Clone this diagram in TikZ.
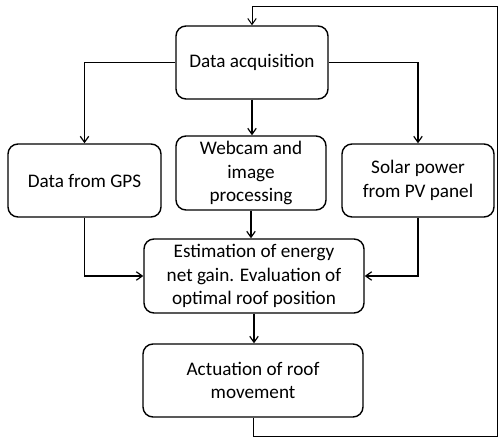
\documentclass[tikz,border=0pt]{standalone}
\usepackage{fontspec}
\setmainfont{Carlito}
\usetikzlibrary{arrows.meta}
\begin{document}
\begin{tikzpicture}[x=1pt,y=-1pt,
  box/.style={draw,line width=1.4pt,rounded corners=10pt,inner sep=0pt,align=center,
    font=\fontsize{19.2}{23.5}\selectfont},
  arr/.style={line width=1.5pt,-{Straight Barb[length=6pt,width=8.5pt,line width=1.2pt]}},
  fb/.style={line width=0.9pt,-{Straight Barb[length=6pt,width=8.5pt,line width=1pt]}}]
\useasboundingbox (0,0) rectangle (499,437);
\node[box,minimum width=152pt,minimum height=73pt] (da) at (252,62.5) {Data acquisition};
\node[box,minimum width=153pt,minimum height=73pt] (gps) at (84.5,180.5) {Data from GPS};
\node[box,minimum width=150pt,minimum height=74pt] (web) at (251,173) {\raisebox{0pt}[0pt][0pt]{}Webcam and\\image\\processing};
\node[box,minimum width=152pt,minimum height=73pt] (sol) at (418,180.5) {Solar power\\from PV panel};
\node[box,minimum width=220pt,minimum height=74pt] (est) at (254,276) {Estimation of energy\\net gain. Evaluation of\\optimal roof position};
\node[box,minimum width=220pt,minimum height=73pt] (act) at (253,380.5) {Actuation of roof\\movement};
\coordinate (fb2) at (497,436);
\coordinate (fb3) at (497,6);
\draw[arr] (da.west) -| (gps.north);
\draw[arr] (da.east) -| (sol.north);
\draw[arr] (da.south) -- (da.south |- web.north);
\draw[arr] (gps.south) |- (est.west);
\draw[arr] (sol.south) |- (est.east);
\draw[arr] (web.south) -- (web.south |- est.north);
\draw[arr] (est.south) -- (est.south |- act.north);
\draw[fb] (act.south) |- (fb2) -- (fb3) -| (da.north);
\end{tikzpicture}
\end{document}
